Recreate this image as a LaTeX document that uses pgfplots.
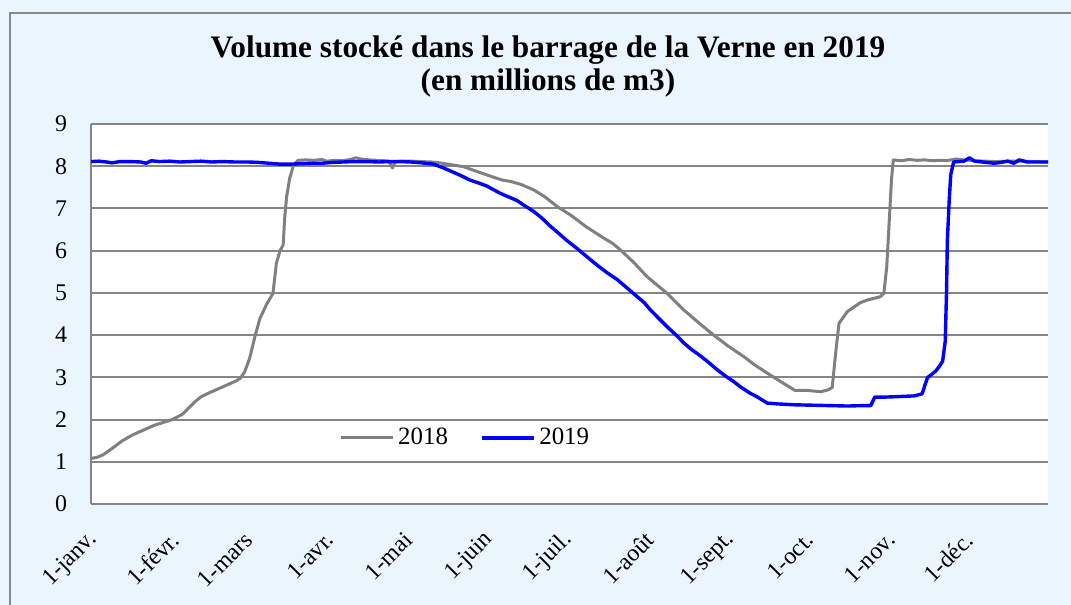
\documentclass[border=0pt]{standalone}
\usepackage{fontspec}
\setmainfont{Liberation Serif}
\usepackage{pgfplots}
\pgfplotsset{compat=1.18}
\definecolor{bgblue}{RGB}{234,245,255}
\definecolor{gridgray}{RGB}{134,134,134}
\definecolor{curvegray}{RGB}{128,128,128}
\definecolor{borderg}{RGB}{137,137,137}
\begin{document}
\begin{tikzpicture}
\path[use as bounding box, fill=bgblue] (0,0) rectangle (535.5bp,302.5bp);
\draw[borderg, line width=1bp] (5bp,-2bp) -- (5bp,296bp) -- (538bp,296bp);
\node[font=\bfseries\fontsize{15.7}{16.5}\selectfont, align=center] at (274bp,269.3bp) {Volume stocké dans le barrage de la Verne en 2019\\(en millions de m3)};
\begin{axis}[
  at={(45.5bp,50.5bp)}, anchor=south west,
  scale only axis, width=478.5bp, height=190bp,
  xmin=0, xmax=365, ymin=0, ymax=9,
  axis background/.style={fill=white},
  axis x line*=bottom, axis y line*=left,
  axis line style={gridgray, line width=1bp, -},
  major tick length=0pt,
  ymajorgrids, grid style={gridgray, line width=1bp},
  ytick={0,1,2,3,4,5,6,7,8,9},
  xtick={0,31,59,90,120,151,181,212,243,273,304,334},
  xticklabels={1-janv.,1-févr.,1-mars,1-avr.,1-mai,1-juin,1-juil.,1-août,1-sept.,1-oct.,1-nov.,1-déc.},
  /pgf/number format/assume math mode=true,
  tick label style={font=\fontsize{12}{14}\selectfont, black},
  yticklabel style={xshift=-8.5bp},
  xticklabel style={anchor=east, inner sep=0pt, xshift=1.5bp, yshift=-16bp, rotate=45},
  legend style={draw=none, fill=none, at={(0.392,0.174)}, anchor=center, legend columns=2,
    font=\fontsize{12.5}{14}\selectfont, /tikz/every even column/.append style={column sep=14bp}},
  legend image code/.code={\draw[#1] (0bp,0bp) -- (26bp,0bp);},
]
\addplot[curvegray, line width=1.5bp, line join=round] coordinates {
(0,1.08)(2,1.10)(4.5,1.16)(7,1.27)(9,1.36)(12,1.50)(16,1.64)(20,1.75)(24,1.86)(27.5,1.93)
(31,2.00)(35,2.13)(37,2.26)(40,2.44)(42,2.54)(45,2.63)(49,2.74)(53,2.85)(55.5,2.92)(57,2.98)
(58.6,3.13)(60.5,3.45)(62.5,3.96)(64.4,4.39)(66.9,4.72)(69.4,4.99)(70.7,5.70)(72,5.98)(73.3,6.14)
(73.9,6.80)(74.6,7.27)(75.8,7.72)(77.3,8.03)(79,8.14)(82,8.15)(85,8.14)(88,8.16)(90,8.12)(93,8.14)
(96,8.13)(99,8.16)(101,8.20)(103,8.17)(106,8.15)(109,8.14)(112,8.13)(113.5,8.12)(115,7.96)(116,8.10)
(118,8.12)(122,8.12)(126,8.11)(130,8.10)(133,8.08)(137,8.04)(142,7.99)(147,7.88)(153.5,7.74)(157,7.67)
(160,7.64)(164,7.57)(168.8,7.44)(173,7.28)(177.7,7.05)(183,6.84)(189,6.56)(195.5,6.30)(199,6.17)
(201.9,6.02)(207,5.72)(212,5.39)(216,5.18)(219.7,4.99)(226,4.60)(232,4.28)(237.5,4.00)(243,3.74)
(249,3.49)(253,3.30)(257.9,3.10)(263,2.90)(268.5,2.69)(273,2.69)(278.3,2.66)(281,2.70)(282.7,2.76)
(284,3.57)(285.3,4.28)(288.5,4.56)(293.5,4.77)(296,4.83)(298.6,4.87)(301,4.91)(302.4,4.99)(303.5,5.62)
(304.4,6.65)(305.3,7.68)(306,8.15)(309,8.13)(312,8.16)(315,8.14)(318,8.15)(321,8.13)(324,8.14)
(327,8.14)(330,8.17)(333,8.15)(337,8.13)(341,8.12)(345,8.11)(350,8.12)(355,8.12)(360,8.11)(365,8.10)
};
\addlegendentry{2018}
\addplot[blue, line width=1.7bp, line join=round] coordinates {
(0,8.11)(3,8.12)(6,8.10)(8,8.08)(11,8.11)(15,8.11)(19,8.10)(21,8.07)(23,8.13)(26,8.11)(30,8.12)
(34,8.10)(38,8.11)(42,8.12)(46,8.10)(50,8.11)(55,8.10)(60,8.10)(64,8.09)(68,8.07)(72,8.05)(76,8.05)
(80,8.06)(84,8.07)(88,8.07)(92,8.09)(96,8.10)(100,8.11)(105,8.11)(110,8.10)(114,8.11)(117.8,8.11)
(122,8.10)(126,8.08)(130.6,8.05)(134,7.97)(137,7.89)(141,7.78)(144.6,7.67)(148,7.60)(151,7.53)
(156,7.36)(159,7.28)(162.4,7.19)(165,7.08)(168.8,6.93)(172,6.77)(175,6.59)(178,6.43)(181.5,6.24)
(185,6.07)(187.9,5.92)(191,5.76)(194.2,5.60)(197,5.47)(200.6,5.32)(204,5.14)(208.3,4.91)(211,4.77)
(213.3,4.60)(216,4.43)(219.7,4.20)(223,4.01)(226,3.82)(229,3.66)(232.4,3.51)(236,3.33)(238.8,3.18)
(242,3.03)(245.1,2.90)(248,2.76)(251.5,2.62)(254,2.54)(257.9,2.39)(262,2.37)(268,2.35)(275,2.34)
(282,2.33)(288.5,2.32)(294,2.33)(297.4,2.33)(298.9,2.53)(302,2.53)(306.3,2.54)(310,2.55)(314,2.56)
(317,2.61)(319,2.99)(322.2,3.15)(324,3.30)(324.8,3.38)(325.8,3.85)(326.3,5.03)(326.6,6.22)(327.3,7.17)
(327.9,7.80)(329,8.10)(331,8.11)(333,8.12)(335,8.20)(337,8.12)(340,8.10)(344.5,8.07)(347,8.09)
(349.6,8.12)(352,8.07)(354,8.15)(357,8.10)(361,8.10)(365,8.10)
};
\addlegendentry{2019}
\end{axis}
\end{tikzpicture}
\end{document}
